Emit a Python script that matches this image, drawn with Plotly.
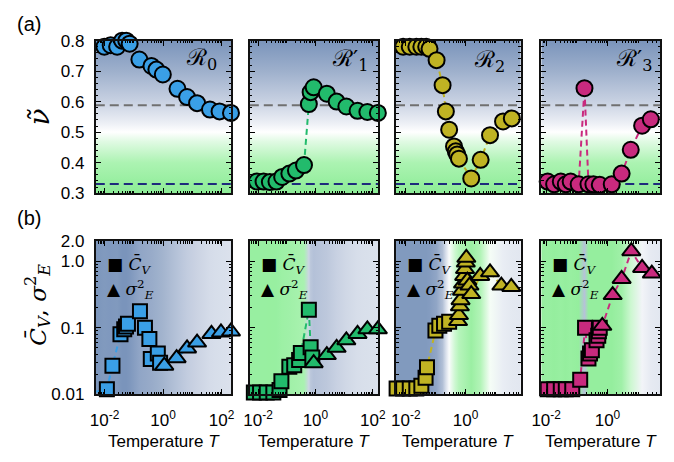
import math
import numpy as np
import plotly.graph_objects as go

W, H = 674, 462

# ---------------- data ----------------
# Panel R0
T_nu_R0 = [0.0048, 0.0098, 0.0162, 0.0269, 0.0398, 0.055, 0.072, 0.155, 0.40, 0.59, 0.98, 3.1, 6.6, 14.5, 40, 85, 209]
nu_R0 = [0.794, 0.780, 0.785, 0.780, 0.800, 0.800, 0.790, 0.738, 0.717, 0.705, 0.689, 0.642, 0.615, 0.595, 0.574, 0.568, 0.563]
T_cv_R0 = [0.0048, 0.012, 0.0186, 0.035, 0.047, 0.054, 0.063, 0.162, 0.24, 0.34, 0.38, 0.66, 0.79]
cv_R0 = [0.011, 0.012, 0.027, 0.080, 0.095, 0.105, 0.115, 0.177, 0.100, 0.068, 0.034, 0.041, 0.030]
T_sig_R0 = [1.1, 2.9, 6.6, 14.5, 45, 95, 209]
sig_R0 = [0.027, 0.035, 0.049, 0.060, 0.081, 0.085, 0.088]

# Panel R1'
T_nu_R1 = [0.0048, 0.0091, 0.0155, 0.0257, 0.0437, 0.069, 0.123, 0.209, 0.40, 0.59, 0.68, 0.87, 2.5, 5.5, 12, 29.5, 65, 151]
nu_R1 = [0.338, 0.338, 0.338, 0.336, 0.338, 0.353, 0.364, 0.374, 0.392, 0.592, 0.631, 0.647, 0.626, 0.600, 0.584, 0.570, 0.566, 0.563]
T_cv_R1 = [0.0048, 0.0071, 0.0117, 0.020, 0.034, 0.056, 0.065, 0.123, 0.182, 0.27, 0.31, 0.59, 0.68, 0.78]
cv_R1 = [0.0107, 0.0107, 0.0107, 0.0107, 0.0107, 0.0117, 0.0158, 0.026, 0.0275, 0.033, 0.042, 0.186, 0.051, 0.036]
T_sig_R1 = [0.87, 2.5, 5.5, 12, 29.5, 65, 151]
sig_R1 = [0.0295, 0.039, 0.050, 0.065, 0.081, 0.095, 0.095]

# Panel R2
T_nu_R2 = [0.0044, 0.0081, 0.0135, 0.0224, 0.033, 0.048, 0.062, 0.107, 0.17, 0.219, 0.282, 0.41, 0.47, 0.525, 0.60, 1.55, 3.2, 6.6, 18, 35.5, 76]
nu_R2 = [0.780, 0.780, 0.780, 0.780, 0.780, 0.780, 0.773, 0.736, 0.654, 0.568, 0.508, 0.453, 0.437, 0.427, 0.413, 0.348, 0.409, 0.490, 0.535, 0.545, 0.549]
T_cv_R2 = [0.0049, 0.0081, 0.0135, 0.0224, 0.033, 0.0457, 0.051, 0.098, 0.132, 0.19, 0.282]
cv_R2 = [0.0123, 0.0123, 0.0123, 0.0123, 0.0135, 0.0178, 0.0257, 0.091, 0.107, 0.115, 0.123]
T_sig_R2 = [0.56, 0.60, 0.645, 0.68, 0.76, 0.82, 0.90, 0.96, 1.02, 1.06, 1.15, 1.35, 1.55, 3.1, 6.6, 15.8, 34, 72]
sig_R2 = [0.126, 0.155, 0.21, 0.26, 0.36, 0.46, 0.60, 0.76, 0.95, 1.12, 0.51, 0.43, 0.32, 0.60, 0.68, 0.43, 0.41, 0.39]

# Panel R3'
T_nu_R3 = [0.0062, 0.0112, 0.0182, 0.030, 0.0437, 0.063, 0.115, 0.178, 0.24, 0.347, 0.56, 1.38, 2.9, 5.75, 13.5, 26, 54]
nu_R3 = [0.329, 0.338, 0.329, 0.338, 0.329, 0.338, 0.329, 0.644, 0.329, 0.329, 0.327, 0.329, 0.364, 0.442, 0.521, 0.542, 0.549]
T_cv_R3 = [0.0069, 0.0112, 0.0182, 0.030, 0.0437, 0.071, 0.129, 0.186, 0.24, 0.27, 0.31, 0.44, 0.50, 0.525, 0.56]
cv_R3 = [0.012, 0.012, 0.012, 0.012, 0.012, 0.012, 0.0166, 0.100, 0.0347, 0.041, 0.046, 0.065, 0.076, 0.089, 0.100]
T_sig_R3 = [0.68, 1.48, 2.9, 6.0, 13.5, 28, 54]
sig_R3 = [0.107, 0.31, 0.54, 1.41, 0.79, 0.65, 0.575]

NU_GRAY = 0.588
NU_NAVY = 0.330

# ---------------- colour map for nu ----------------
NU_STOPS = [0.30, 0.40, 0.47, 0.50, 0.53, 0.60, 0.70, 0.80]
NU_RGB = [(140, 236, 150), (172, 243, 178), (225, 250, 228), (255, 255, 255),
          (236, 239, 245), (200, 209, 226), (158, 176, 204), (122, 148, 187)]


def nu_color(v):
    v = min(max(v, NU_STOPS[0]), NU_STOPS[-1])
    rgb = [np.interp(v, NU_STOPS, [c[k] for c in NU_RGB]) for k in range(3)]
    return 'rgb(%d,%d,%d)' % tuple(int(round(c)) for c in rgb)


top_cs = [[(s - 0.3) / 0.5, nu_color(s)] for s in NU_STOPS]


def bottom_cs(T, nu, lo, hi):
    f = [(math.log10(t) - lo) / (hi - lo) for t in T]
    cs = [[0.0, nu_color(float(np.interp(0.0, f, nu)))]]
    for fi, vi in zip(f, nu):
        if 0.0 < fi < 1.0 and fi > cs[-1][0]:
            cs.append([fi, nu_color(vi)])
    cs.append([1.0, nu_color(float(np.interp(1.0, f, nu)))])
    return cs


panels = [
    dict(lab='ℛ<sub>0</sub>', col='#3a9fe6', T_nu=T_nu_R0, nu=nu_R0, T_cv=T_cv_R0, cv=cv_R0,
         T_sig=T_sig_R0, sig=sig_R0, xr=[-2.3, 2.33], px=(88, 227), labpos=(196, 52)),
    dict(lab='ℛ′<sub>1</sub>', col='#22bb6c', T_nu=T_nu_R1, nu=nu_R1, T_cv=T_cv_R1, cv=cv_R1,
         T_sig=T_sig_R1, sig=sig_R1, xr=[-2.29, 2.2], px=(246, 378), labpos=(349, 53)),
    dict(lab='ℛ<sub>2</sub>', col='#c0b323', T_nu=T_nu_R2, nu=nu_R2, T_cv=T_cv_R2, cv=cv_R2,
         T_sig=T_sig_R2, sig=sig_R2, xr=[-2.33, 1.85], px=(396, 524), labpos=(492, 54)),
    dict(lab='ℛ′<sub>3</sub>', col='#c92a7e', T_nu=T_nu_R3, nu=nu_R3, T_cv=T_cv_R3, cv=cv_R3,
         T_sig=T_sig_R3, sig=sig_R3, xr=[-2.16, 1.72], px=(545, 667), labpos=(640, 53)),
]

TOP_PX = (33, 192)
BOT_PX = (242, 402)
FONT = 'Liberation Sans, Arial, sans-serif'

fig = go.Figure()
layout = dict(width=W, height=H, margin=dict(l=0, r=0, t=0, b=0),
              paper_bgcolor='white', plot_bgcolor='white', showlegend=False,
              font=dict(family=FONT, size=17, color='black'))

x_major = [1e-2, 1, 100]
x_text = ['10<sup>-2</sup>', '10<sup>0</sup>', '10<sup>2</sup>']
x_minor = [m * 10.0 ** e for e in range(-3, 3) for m in range(1, 10) if not (m == 1 and e % 2 == 0)]
ytop_minor = [round(0.3 + 0.02 * k, 2) for k in range(26)]
ybot_minor = [m * 10.0 ** e for e in (-2, -1) for m in range(2, 10)]


def ax_common():
    return dict(showline=True, linecolor='#111111', linewidth=2, mirror='ticks',
                ticks='inside', ticklen=5, tickwidth=1.2, tickcolor='black',
                showgrid=False, zeroline=False, tickfont=dict(family=FONT, size=17))


annotations = []
for i, p in enumerate(panels):
    it, ib = i + 1, i + 5
    lo, hi = p['xr']
    Tlo, Thi = 10 ** lo, 10 ** hi
    x0, x1 = p['px']
    dom_x = [x0 / W, x1 / W]
    dom_top = [1 - TOP_PX[1] / H, 1 - TOP_PX[0] / H]
    dom_bot = [1 - BOT_PX[1] / H, 1 - BOT_PX[0] / H]
    col = p['col']

    for idx, dom_y, is_top in ((it, dom_top, True), (ib, dom_bot, False)):
        xa = ax_common()
        xa.update(type='log', range=[lo, hi], domain=dom_x, anchor='y%d' % idx,
                  tickmode='array', tickvals=x_major, ticktext=x_text,
                  showticklabels=not is_top, ticklabelstandoff=9,
                  minor=dict(ticks='inside', ticklen=2.5, tickwidth=0.9, tickcolor='black',
                             tickmode='array', tickvals=x_minor))
        ya = ax_common()
        if is_top:
            ya.update(type='linear', range=[0.3, 0.8], domain=dom_y, anchor='x%d' % idx,
                      tickmode='array', tickvals=[0.3, 0.4, 0.5, 0.6, 0.7, 0.8],
                      ticktext=['0.3', '0.4', '0.5', '0.6', '0.7', '0.8'],
                      minor=dict(ticks='inside', ticklen=2.5, tickwidth=0.9, tickcolor='black',
                                 tickmode='array', tickvals=ytop_minor))
        else:
            ya.update(type='log', range=[-2, math.log10(2.0)], domain=dom_y, anchor='x%d' % idx,
                      tickmode='array', tickvals=[0.01, 0.1, 1, 2],
                      ticktext=['0.01', '0.1', '1.0', '2.0'],
                      minor=dict(ticks='inside', ticklen=2.5, tickwidth=0.9, tickcolor='black',
                                 tickmode='array', tickvals=ybot_minor))
        ya.update(showticklabels=(i == 0), ticklabelstandoff=6)
        layout['xaxis%d' % idx] = xa
        layout['yaxis%d' % idx] = ya

    xt, yt = 'x%d' % it, 'y%d' % it
    xb, yb = 'x%d' % ib, 'y%d' % ib

    # ---- top panel ----
    fig.add_trace(go.Scatter(x=[Tlo, Thi, Thi, Tlo, Tlo], y=[0.3, 0.3, 0.8, 0.8, 0.3],
                             mode='lines', line=dict(width=0), fill='toself',
                             fillgradient=dict(type='vertical', colorscale=top_cs),
                             hoverinfo='skip', xaxis=xt, yaxis=yt))
    fig.add_trace(go.Scatter(x=[Tlo, Thi], y=[NU_GRAY, NU_GRAY], mode='lines',
                             line=dict(color='#707070', width=2, dash='9px,5px'),
                             hoverinfo='skip', xaxis=xt, yaxis=yt))
    fig.add_trace(go.Scatter(x=[Tlo, Thi], y=[NU_NAVY, NU_NAVY], mode='lines',
                             line=dict(color='#1e2a7c', width=2, dash='9px,5px'),
                             hoverinfo='skip', xaxis=xt, yaxis=yt))
    fig.add_trace(go.Scatter(x=p['T_nu'], y=p['nu'], mode='lines+markers', cliponaxis=False,
                             line=dict(color=col, width=2, dash='6px,4px'),
                             marker=dict(symbol='circle', size=16, color=col,
                                         line=dict(color='black', width=2)),
                             xaxis=xt, yaxis=yt))

    # ---- bottom panel ----
    fig.add_trace(go.Scatter(x=[Tlo, Thi, Thi, Tlo, Tlo], y=[0.01, 0.01, 2.0, 2.0, 0.01],
                             mode='lines', line=dict(width=0), fill='toself',
                             fillgradient=dict(type='horizontal',
                                               colorscale=bottom_cs(p['T_nu'], p['nu'], lo, hi)),
                             hoverinfo='skip', xaxis=xb, yaxis=yb))
    fig.add_trace(go.Scatter(x=p['T_cv'] + p['T_sig'], y=p['cv'] + p['sig'], mode='lines',
                             cliponaxis=False, line=dict(color=col, width=2, dash='6px,4px'),
                             hoverinfo='skip', xaxis=xb, yaxis=yb))
    fig.add_trace(go.Scatter(x=p['T_cv'], y=p['cv'], mode='markers', cliponaxis=False,
                             marker=dict(symbol='square', size=14, color=col,
                                         line=dict(color='black', width=2)),
                             xaxis=xb, yaxis=yb))
    fig.add_trace(go.Scatter(x=p['T_sig'], y=p['sig'], mode='markers', cliponaxis=False,
                             marker=dict(symbol='triangle-up', size=16, color=col,
                                         line=dict(color='black', width=2)),
                             xaxis=xb, yaxis=yb))

    # ---- annotations ----
    lx, ly = p['labpos']
    annotations.append(dict(x=lx / W, y=1 - ly / H, xref='paper', yref='paper',
                            text=p['lab'], showarrow=False, xanchor='center', yanchor='middle',
                            font=dict(family='DejaVu Serif, serif', size=23, color='black')))
    annotations.append(dict(x=(x0 + 9) / W, y=1 - 267 / H, xref='paper', yref='paper',
                            text='■ <i>C̄</i><sub><i>V</i></sub>', showarrow=False,
                            xanchor='left', yanchor='middle',
                            font=dict(family='DejaVu Serif, serif', size=17, color='black')))
    annotations.append(dict(x=(x0 + 9) / W, y=1 - 293 / H, xref='paper', yref='paper',
                            text='▲ <i>σ</i><sup>2</sup><sub><i>E</i></sub>', showarrow=False,
                            xanchor='left', yanchor='middle',
                            font=dict(family='DejaVu Serif, serif', size=17, color='black')))
    annotations.append(dict(x=(x0 + x1) / 2 / W, y=1 - 451 / H, xref='paper', yref='paper',
                            text='Temperature <i>T</i>', showarrow=False,
                            xanchor='center', yanchor='middle',
                            font=dict(family=FONT, size=17, color='black')))

annotations += [
    dict(x=5 / W, y=1 - 16 / H, xref='paper', yref='paper', text='(a)', showarrow=False,
         xanchor='left', yanchor='middle', font=dict(family=FONT, size=20)),
    dict(x=5 / W, y=1 - 218 / H, xref='paper', yref='paper', text='(b)', showarrow=False,
         xanchor='left', yanchor='middle', font=dict(family=FONT, size=20)),
    dict(x=30 / W, y=1 - 113 / H, xref='paper', yref='paper', text='<i>ν̃</i>', showarrow=False,
         xanchor='center', yanchor='middle', textangle=-90,
         font=dict(family='DejaVu Serif, serif', size=28)),
    dict(x=28 / W, y=1 - 308 / H, xref='paper', yref='paper',
         text='<i>C̄</i><sub><i>V</i></sub>, <i>σ</i><sup>2</sup><sub><i>E</i></sub>',
         showarrow=False, xanchor='center', yanchor='middle', textangle=-90,
         font=dict(family='DejaVu Serif, serif', size=23)),
]
layout['annotations'] = annotations
fig.update_layout(**layout)
fig.write_html('out.html')
